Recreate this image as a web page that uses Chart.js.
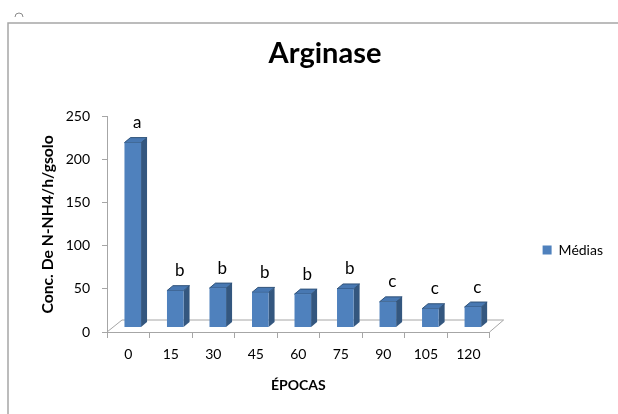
<!DOCTYPE html>
<html>
<head>
<meta charset="utf-8">
<script src="https://cdn.jsdelivr.net/npm/chart.js@4.4.1/dist/chart.umd.min.js"></script>
<style>
	html, body { margin: 0; padding: 0; background: #fff; }
	#wrap { position: relative; width: 618px; height: 414px; }
</style>
</head>
<body>
<div id="wrap"><canvas id="argChart"></canvas></div>
<script>
// data
const epocas = ['0', '15', '30', '45', '60', '75', '90', '105', '120'];
const medias = [220, 48, 51, 46, 44, 50, 35, 27, 29];
const letras = ['a', 'b', 'b', 'b', 'b', 'b', 'c', 'c', 'c'];
const yTicks = [0, 50, 100, 150, 200, 250];

const axisGray = '#A6A6A6';
const frontColor = '#4F81BD';
const sideColor = '#34577F';
const topColor = '#4878B2';

Chart.defaults.font.family = 'Lato, "Open Sans", sans-serif';
Chart.defaults.color = '#000';

// frame around the chart object, like the Excel selection box
const framePlugin = {
	id: 'frame',
	beforeDraw(chart) {
		const ctx = chart.ctx;
		ctx.save();
		ctx.fillStyle = '#fff';
		ctx.fillRect(0, 0, chart.width, chart.height);
		ctx.strokeStyle = axisGray;
		ctx.lineWidth = 1.5;
		ctx.beginPath();
		ctx.moveTo(8, chart.height);
		ctx.lineTo(8, 23);
		ctx.lineTo(chart.width, 23);
		ctx.stroke();
		ctx.lineWidth = 1;
		ctx.strokeStyle = '#8a8a8a';
		ctx.beginPath();
		ctx.arc(19, 17, 4, Math.PI, 0);
		ctx.stroke();
		ctx.restore();
	}
};

// 3d floor + 3d bars + letters
const bars3d = {
	id: 'bars3d',
	beforeDatasetDraw() {
		return false; // bars are painted below
	},
	afterDatasetsDraw(chart) {
		const ctx = chart.ctx;
		const area = chart.chartArea;
		const meta = chart.getDatasetMeta(0);
		ctx.save();

		// floor
		ctx.strokeStyle = axisGray;
		ctx.lineWidth = 1;
		ctx.beginPath();
		ctx.moveTo(area.left, area.bottom);
		ctx.lineTo(area.left + 15, area.bottom - 12);
		ctx.lineTo(area.right + 14, area.bottom - 12);
		ctx.lineTo(area.right, area.bottom);
		ctx.stroke();

		const dx = 6, dy = -5;
		const base = area.bottom - 5;
		meta.data.forEach(function(bar, i) {
			const w = bar.width;
			const l = bar.x + 4.5 - w / 2;
			const r = l + w;
			const t = bar.y;

			ctx.fillStyle = sideColor;
			ctx.beginPath();
			ctx.moveTo(r, t);
			ctx.lineTo(r + dx, t + dy);
			ctx.lineTo(r + dx, base + dy);
			ctx.lineTo(r, base);
			ctx.closePath();
			ctx.fill();

			ctx.fillStyle = topColor;
			ctx.strokeStyle = '#2F5279';
			ctx.beginPath();
			ctx.moveTo(l, t);
			ctx.lineTo(l + dx, t + dy);
			ctx.lineTo(r + dx, t + dy);
			ctx.lineTo(r, t);
			ctx.closePath();
			ctx.fill();
			ctx.stroke();

			ctx.fillStyle = frontColor;
			ctx.fillRect(l, t, w, base - t);

			ctx.fillStyle = '#000';
			ctx.font = '17px Lato, sans-serif';
			ctx.textAlign = 'center';
			ctx.textBaseline = 'middle';
			ctx.fillText(letras[i], bar.x + 9, t - 20);
		});
		ctx.restore();
	}
};

const ctx = document.getElementById('argChart').getContext('2d');

const chart = new Chart(ctx, {
	type: 'bar',
	data: {
		labels: epocas,
		datasets: [{
			label: 'Médias',
			data: medias,
			backgroundColor: frontColor,
			borderWidth: 0,
			categoryPercentage: 1,
			barPercentage: 0.39
		}]
	},
	options: {
		responsive: true,
		maintainAspectRatio: false,
		animation: false,
		layout: {
			padding: { left: 37, right: 5, top: 0, bottom: 0 }
		},
		plugins: {
			title: {
				display: true,
				text: 'Arginase',
				color: '#000',
				font: { size: 29, weight: 'bold' },
				padding: { top: 36, bottom: 46 }
			},
			legend: {
				position: 'right',
				title: {
					display: true,
					text: ' ',
					font: { size: 10 },
					padding: { top: 37, bottom: 37 }
				},
				labels: {
					boxWidth: 9,
					boxHeight: 9,
					padding: 53,
					color: '#000',
					font: { size: 14 }
				}
			},
			tooltip: { enabled: false }
		},
		scales: {
			x: {
				grid: {
					drawOnChartArea: false,
					tickLength: 6,
					color: axisGray
				},
				border: { color: axisGray },
				ticks: {
					padding: 8,
					font: { size: 14 }
				},
				title: {
					display: true,
					text: 'ÉPOCAS',
					font: { size: 14, weight: 'bold' },
					padding: { top: 0, bottom: 20 }
				},
				afterFit: function(scale) { scale.height = 82; }
			},
			y: {
				min: 0,
				max: 250,
				afterBuildTicks: function(scale) {
					scale.ticks = yTicks.map(v => ({ value: v }));
				},
				grid: {
					drawOnChartArea: false,
					tickLength: 5,
					color: axisGray
				},
				border: { color: axisGray },
				ticks: {
					padding: 12,
					font: { size: 14 }
				},
				title: {
					display: true,
					text: 'Conc. De N-NH4/h/gsolo',
					font: { size: 15.7, weight: 'bold' },
					padding: { top: 2, bottom: 0 }
				},
				afterFit: function(scale) { scale.width = 70; }
			}
		}
	},
	plugins: [framePlugin, bars3d]
});
</script>
</body>
</html>
